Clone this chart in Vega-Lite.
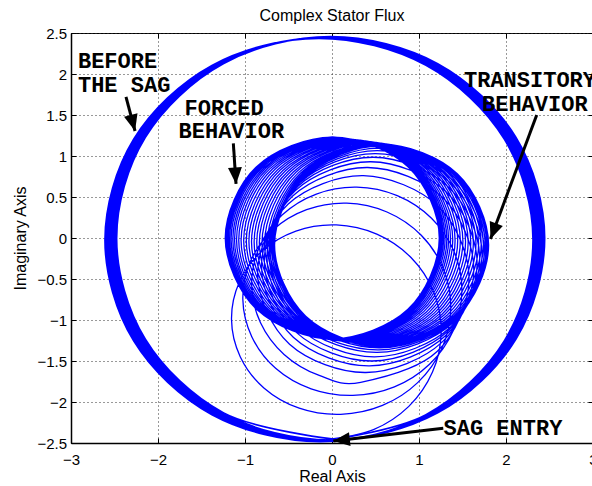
{
  "$schema": "https://vega.github.io/schema/vega-lite/v6.json",
  "width": 522,
  "height": 410,
  "autosize": {"type": "none"},
  "padding": {"left": 71, "top": 33, "right": 0, "bottom": 43},
  "background": "white",
  "title": {
    "text": "Complex Stator Flux",
    "font": "Liberation Sans",
    "fontSize": 16,
    "fontWeight": "normal",
    "color": "black",
    "offset": 2
  },
  "config": {
    "view": {"stroke": "black", "strokeWidth": 1},
    "axis": {
      "labelFont": "Liberation Sans",
      "labelFontSize": 15,
      "labelColor": "black",
      "labelFlush": false,
      "titleFont": "Liberation Sans",
      "titleFontSize": 16,
      "titleFontWeight": "normal",
      "titleColor": "black",
      "tickColor": "black",
      "tickWidth": 1,
      "domainColor": "black"
    }
  },
  "datasets": {
    "before": [
      {"x":-0.15,"y":-2.485},{"x":1.08,"y":-2.155},{"x":1.98,"y":-1.255},{"x":2.31,"y":-0.025},{"x":1.98,"y":1.205},{"x":1.08,"y":2.105},{"x":-0.15,"y":2.435},{"x":-1.38,"y":2.105},{"x":-2.28,"y":1.205},{"x":-2.61,"y":-0.025},{"x":-2.28,"y":-1.255},{"x":-1.38,"y":-2.155},
      {"x":-0.135,"y":-2.483},{"x":1.095,"y":-2.153},{"x":1.995,"y":-1.253},{"x":2.325,"y":-0.023},{"x":1.995,"y":1.207},{"x":1.095,"y":2.107},{"x":-0.135,"y":2.437},{"x":-1.365,"y":2.107},{"x":-2.265,"y":1.207},{"x":-2.595,"y":-0.023},{"x":-2.265,"y":-1.253},{"x":-1.365,"y":-2.153},
      {"x":-0.12,"y":-2.48},{"x":1.11,"y":-2.15},{"x":2.01,"y":-1.25},{"x":2.34,"y":-0.02},{"x":2.01,"y":1.21},{"x":1.11,"y":2.11},{"x":-0.12,"y":2.44},{"x":-1.35,"y":2.11},{"x":-2.25,"y":1.21},{"x":-2.58,"y":-0.02},{"x":-2.25,"y":-1.25},{"x":-1.35,"y":-2.15},
      {"x":-0.105,"y":-2.478},{"x":1.125,"y":-2.148},{"x":2.025,"y":-1.248},{"x":2.355,"y":-0.018},{"x":2.025,"y":1.212},{"x":1.125,"y":2.112},{"x":-0.105,"y":2.442},{"x":-1.335,"y":2.112},{"x":-2.235,"y":1.212},{"x":-2.565,"y":-0.018},{"x":-2.235,"y":-1.248},{"x":-1.335,"y":-2.148},
      {"x":-0.09,"y":-2.475},{"x":1.14,"y":-2.145},{"x":2.04,"y":-1.245},{"x":2.37,"y":-0.015},{"x":2.04,"y":1.215},{"x":1.14,"y":2.115},{"x":-0.09,"y":2.445},{"x":-1.32,"y":2.115},{"x":-2.22,"y":1.215},{"x":-2.55,"y":-0.015},{"x":-2.22,"y":-1.245},{"x":-1.32,"y":-2.145},
      {"x":-0.075,"y":-2.473},{"x":1.155,"y":-2.143},{"x":2.055,"y":-1.243},{"x":2.385,"y":-0.013},{"x":2.055,"y":1.217},{"x":1.155,"y":2.117},{"x":-0.075,"y":2.447},{"x":-1.305,"y":2.117},{"x":-2.205,"y":1.217},{"x":-2.535,"y":-0.013},{"x":-2.205,"y":-1.243},{"x":-1.305,"y":-2.143},
      {"x":-0.06,"y":-2.47},{"x":1.17,"y":-2.14},{"x":2.07,"y":-1.24},{"x":2.4,"y":-0.01},{"x":2.07,"y":1.22},{"x":1.17,"y":2.12},{"x":-0.06,"y":2.45},{"x":-1.29,"y":2.12},{"x":-2.19,"y":1.22},{"x":-2.52,"y":-0.01},{"x":-2.19,"y":-1.24},{"x":-1.29,"y":-2.14},
      {"x":-0.045,"y":-2.468},{"x":1.185,"y":-2.138},{"x":2.085,"y":-1.238},{"x":2.415,"y":-0.008},{"x":2.085,"y":1.222},{"x":1.185,"y":2.122},{"x":-0.045,"y":2.452},{"x":-1.275,"y":2.122},{"x":-2.175,"y":1.222},{"x":-2.505,"y":-0.008},{"x":-2.175,"y":-1.238},{"x":-1.275,"y":-2.138},
      {"x":-0.03,"y":-2.465},{"x":1.2,"y":-2.135},{"x":2.1,"y":-1.235},{"x":2.43,"y":-0.005},{"x":2.1,"y":1.225},{"x":1.2,"y":2.125},{"x":-0.03,"y":2.455},{"x":-1.26,"y":2.125},{"x":-2.16,"y":1.225},{"x":-2.49,"y":-0.005},{"x":-2.16,"y":-1.235},{"x":-1.26,"y":-2.135},
      {"x":-0.015,"y":-2.463},{"x":1.215,"y":-2.133},{"x":2.115,"y":-1.233},{"x":2.445,"y":-0.003},{"x":2.115,"y":1.227},{"x":1.215,"y":2.127},{"x":-0.015,"y":2.457},{"x":-1.245,"y":2.127},{"x":-2.145,"y":1.227},{"x":-2.475,"y":-0.003},{"x":-2.145,"y":-1.233},{"x":-1.245,"y":-2.133},
      {"x":0,"y":-2.45}
    ],
    "after": [
      {"x":0,"y":-2.45},{"x":0.477,"y":-2.337},{"x":0.883,"y":-2.053},{"x":1.155,"y":-1.635},{"x":1.255,"y":-1.145},{"x":1.167,"y":-0.655},{"x":0.908,"y":-0.238},{"x":0.515,"y":0.047},
      {"x":0.05,"y":0.16},{"x":-0.415,"y":0.085},{"x":-0.808,"y":-0.163},{"x":-1.067,"y":-0.543},{"x":-1.155,"y":-0.995},{"x":-1.055,"y":-1.447},{"x":-0.783,"y":-1.828},{"x":-0.377,"y":-2.075},
      {"x":0.1,"y":-2.15},{"x":0.58,"y":-2.042},{"x":0.988,"y":-1.761},{"x":1.262,"y":-1.348},{"x":1.365,"y":-0.863},{"x":1.28,"y":-0.377},{"x":1.023,"y":0.036},{"x":0.632,"y":0.317},
      {"x":0.17,"y":0.425},{"x":-0.292,"y":0.345},{"x":-0.683,"y":0.094},{"x":-0.94,"y":-0.291},{"x":-1.025,"y":-0.748},{"x":-0.922,"y":-1.204},{"x":-0.648,"y":-1.589},{"x":-0.24,"y":-1.84},
      {"x":0.24,"y":-1.92},{"x":0.717,"y":-1.816},{"x":1.121,"y":-1.54},{"x":1.393,"y":-1.131},{"x":1.493,"y":-0.65},{"x":1.404,"y":-0.169},{"x":1.144,"y":0.24},{"x":0.75,"y":0.516},
      {"x":0.285,"y":0.62},{"x":-0.18,"y":0.536},{"x":-0.574,"y":0.28},{"x":-0.834,"y":-0.109},{"x":-0.923,"y":-0.57},{"x":-0.823,"y":-1.031},{"x":-0.551,"y":-1.42},{"x":-0.147,"y":-1.676},
      {"x":0.33,"y":-1.76},{"x":1.208,"y":-1.385},{"x":1.575,"y":-0.5},{"x":1.223,"y":0.385},{"x":0.36,"y":0.76},{"x":-0.503,"y":0.415},{"x":-0.855,"y":-0.44},{"x":-0.488,"y":-1.295},
      {"x":0.39,"y":-1.64},{"x":1.265,"y":-1.27},{"x":1.63,"y":-0.39},{"x":1.275,"y":0.49},{"x":0.41,"y":0.86},{"x":-0.455,"y":0.51},{"x":-0.81,"y":-0.35},{"x":-0.445,"y":-1.21},
      {"x":0.43,"y":-1.56},{"x":1.304,"y":-1.193},{"x":1.668,"y":-0.315},{"x":1.311,"y":0.563},{"x":0.445,"y":0.93},{"x":-0.421,"y":0.578},{"x":-0.778,"y":-0.285},{"x":-0.414,"y":-1.148},
      {"x":0.46,"y":-1.5},{"x":1.334,"y":-1.134},{"x":1.698,"y":-0.258},{"x":1.341,"y":0.619},{"x":0.475,"y":0.985},{"x":-0.391,"y":0.631},{"x":-0.748,"y":-0.233},{"x":-0.384,"y":-1.096},
      {"x":0.49,"y":-1.45},{"x":1.363,"y":-1.085},{"x":1.725,"y":-0.21},{"x":1.368,"y":0.665},{"x":0.5,"y":1.03},{"x":-0.368,"y":0.675},{"x":-0.725,"y":-0.19},{"x":-0.363,"y":-1.055},
      {"x":0.52,"y":-1.395},{"x":1.39,"y":-1.035},{"x":1.75,"y":-0.165},{"x":1.39,"y":0.705},{"x":0.52,"y":1.065},{"x":-0.35,"y":0.705},{"x":-0.71,"y":-0.165},{"x":-0.35,"y":-1.035},
      {"x":0.54,"y":-1.365},{"x":1.41,"y":-1.005},{"x":1.77,"y":-0.135},{"x":1.41,"y":0.735},{"x":0.54,"y":1.095},{"x":-0.33,"y":0.735},{"x":-0.69,"y":-0.135},{"x":-0.33,"y":-1.005},
      {"x":0.555,"y":-1.34},{"x":1.425,"y":-0.98},{"x":1.785,"y":-0.11},{"x":1.425,"y":0.76},{"x":0.555,"y":1.12},{"x":-0.315,"y":0.76},{"x":-0.675,"y":-0.11},{"x":-0.315,"y":-0.98},
      {"x":0.565,"y":-1.325},{"x":1.435,"y":-0.965},{"x":1.795,"y":-0.095},{"x":1.435,"y":0.775},{"x":0.565,"y":1.135},{"x":-0.305,"y":0.775},{"x":-0.665,"y":-0.095},{"x":-0.305,"y":-0.965},
      {"x":0.57,"y":-1.316},{"x":1.44,"y":-0.956},{"x":1.8,"y":-0.086},{"x":1.44,"y":0.784},{"x":0.57,"y":1.144},{"x":-0.3,"y":0.784},{"x":-0.66,"y":-0.086},{"x":-0.3,"y":-0.956},
      {"x":0.568,"y":-1.315},{"x":1.438,"y":-0.955},{"x":1.798,"y":-0.085},{"x":1.438,"y":0.785},{"x":0.568,"y":1.145},{"x":-0.302,"y":0.785},{"x":-0.662,"y":-0.085},{"x":-0.302,"y":-0.955},
      {"x":0.56,"y":-1.314},{"x":1.43,"y":-0.954},{"x":1.79,"y":-0.084},{"x":1.43,"y":0.786},{"x":0.56,"y":1.146},{"x":-0.31,"y":0.786},{"x":-0.67,"y":-0.084},{"x":-0.31,"y":-0.954},
      {"x":0.548,"y":-1.312},{"x":1.418,"y":-0.952},{"x":1.778,"y":-0.082},{"x":1.418,"y":0.788},{"x":0.548,"y":1.148},{"x":-0.322,"y":0.788},{"x":-0.682,"y":-0.082},{"x":-0.322,"y":-0.952},
      {"x":0.53,"y":-1.31},{"x":1.4,"y":-0.95},{"x":1.76,"y":-0.08},{"x":1.4,"y":0.79},{"x":0.53,"y":1.15},{"x":-0.34,"y":0.79},{"x":-0.7,"y":-0.08},{"x":-0.34,"y":-0.95},
      {"x":0.51,"y":-1.307},{"x":1.38,"y":-0.947},{"x":1.74,"y":-0.077},{"x":1.38,"y":0.793},{"x":0.51,"y":1.153},{"x":-0.36,"y":0.793},{"x":-0.72,"y":-0.077},{"x":-0.36,"y":-0.947},
      {"x":0.485,"y":-1.303},{"x":1.355,"y":-0.943},{"x":1.715,"y":-0.073},{"x":1.355,"y":0.797},{"x":0.485,"y":1.157},{"x":-0.385,"y":0.797},{"x":-0.745,"y":-0.073},{"x":-0.385,"y":-0.943},
      {"x":0.455,"y":-1.298},{"x":1.325,"y":-0.938},{"x":1.685,"y":-0.068},{"x":1.325,"y":0.802},{"x":0.455,"y":1.162},{"x":-0.415,"y":0.802},{"x":-0.775,"y":-0.068},{"x":-0.415,"y":-0.938},
      {"x":0.425,"y":-1.294},{"x":1.295,"y":-0.934},{"x":1.655,"y":-0.064},{"x":1.295,"y":0.806},{"x":0.425,"y":1.166},{"x":-0.445,"y":0.806},{"x":-0.805,"y":-0.064},{"x":-0.445,"y":-0.934},
      {"x":0.395,"y":-1.289},{"x":1.265,"y":-0.929},{"x":1.625,"y":-0.059},{"x":1.265,"y":0.811},{"x":0.395,"y":1.171},{"x":-0.475,"y":0.811},{"x":-0.835,"y":-0.059},{"x":-0.475,"y":-0.929},
      {"x":0.365,"y":-1.285},{"x":1.235,"y":-0.925},{"x":1.595,"y":-0.055},{"x":1.235,"y":0.815},{"x":0.365,"y":1.175},{"x":-0.505,"y":0.815},{"x":-0.865,"y":-0.055},{"x":-0.505,"y":-0.925},
      {"x":0.335,"y":-1.28},{"x":1.205,"y":-0.92},{"x":1.565,"y":-0.05},{"x":1.205,"y":0.82},{"x":0.335,"y":1.18},{"x":-0.535,"y":0.82},{"x":-0.895,"y":-0.05},{"x":-0.535,"y":-0.92},
      {"x":0.305,"y":-1.276},{"x":1.175,"y":-0.916},{"x":1.535,"y":-0.046},{"x":1.175,"y":0.824},{"x":0.305,"y":1.184},{"x":-0.565,"y":0.824},{"x":-0.925,"y":-0.046},{"x":-0.565,"y":-0.916},
      {"x":0.275,"y":-1.271},{"x":1.145,"y":-0.911},{"x":1.505,"y":-0.041},{"x":1.145,"y":0.829},{"x":0.275,"y":1.189},{"x":-0.595,"y":0.829},{"x":-0.955,"y":-0.041},{"x":-0.595,"y":-0.911},
      {"x":0.245,"y":-1.267},{"x":1.115,"y":-0.907},{"x":1.475,"y":-0.037},{"x":1.115,"y":0.833},{"x":0.245,"y":1.193},{"x":-0.625,"y":0.833},{"x":-0.985,"y":-0.037},{"x":-0.625,"y":-0.907},
      {"x":0.215,"y":-1.262},{"x":1.085,"y":-0.902},{"x":1.445,"y":-0.032},{"x":1.085,"y":0.838},{"x":0.215,"y":1.198},{"x":-0.655,"y":0.838},{"x":-1.015,"y":-0.032},{"x":-0.655,"y":-0.902},
      {"x":0.185,"y":-1.258},{"x":1.055,"y":-0.898},{"x":1.415,"y":-0.028},{"x":1.055,"y":0.842},{"x":0.185,"y":1.202},{"x":-0.685,"y":0.842},{"x":-1.045,"y":-0.028},{"x":-0.685,"y":-0.898},
      {"x":0.158,"y":-1.254},{"x":1.028,"y":-0.894},{"x":1.388,"y":-0.024},{"x":1.028,"y":0.846},{"x":0.158,"y":1.206},{"x":-0.712,"y":0.846},{"x":-1.072,"y":-0.024},{"x":-0.712,"y":-0.894},
      {"x":0.133,"y":-1.25},{"x":1.003,"y":-0.89},{"x":1.363,"y":-0.02},{"x":1.003,"y":0.85},{"x":0.133,"y":1.21},{"x":-0.737,"y":0.85},{"x":-1.097,"y":-0.02},{"x":-0.737,"y":-0.89},
      {"x":0.11,"y":-1.247},{"x":0.98,"y":-0.887},{"x":1.34,"y":-0.017},{"x":0.98,"y":0.853},{"x":0.11,"y":1.213},{"x":-0.76,"y":0.853},{"x":-1.12,"y":-0.017},{"x":-0.76,"y":-0.887},
      {"x":0.09,"y":-1.244},{"x":0.96,"y":-0.884},{"x":1.32,"y":-0.014},{"x":0.96,"y":0.856},{"x":0.09,"y":1.216},{"x":-0.78,"y":0.856},{"x":-1.14,"y":-0.014},{"x":-0.78,"y":-0.884},
      {"x":0.07,"y":-1.241},{"x":0.94,"y":-0.881},{"x":1.3,"y":-0.011},{"x":0.94,"y":0.859},{"x":0.07,"y":1.219},{"x":-0.8,"y":0.859},{"x":-1.16,"y":-0.011},{"x":-0.8,"y":-0.881},
      {"x":0.053,"y":-1.238},{"x":0.923,"y":-0.878},{"x":1.283,"y":-0.008},{"x":0.923,"y":0.862},{"x":0.053,"y":1.222},{"x":-0.817,"y":0.862},{"x":-1.177,"y":-0.008},{"x":-0.817,"y":-0.878},
      {"x":0.038,"y":-1.236},{"x":0.908,"y":-0.876},{"x":1.268,"y":-0.006},{"x":0.908,"y":0.864},{"x":0.038,"y":1.224},{"x":-0.832,"y":0.864},{"x":-1.192,"y":-0.006},{"x":-0.832,"y":-0.876},
      {"x":0.025,"y":-1.234},{"x":0.895,"y":-0.874},{"x":1.255,"y":-0.004},{"x":0.895,"y":0.866},{"x":0.025,"y":1.226},{"x":-0.845,"y":0.866},{"x":-1.205,"y":-0.004},{"x":-0.845,"y":-0.874},
      {"x":0.015,"y":-1.232},{"x":0.885,"y":-0.872},{"x":1.245,"y":-0.002},{"x":0.885,"y":0.868},{"x":0.015,"y":1.228},{"x":-0.855,"y":0.868},{"x":-1.215,"y":-0.002},{"x":-0.855,"y":-0.872},
      {"x":0.008,"y":-1.231},{"x":0.878,"y":-0.871},{"x":1.238,"y":-0.001},{"x":0.878,"y":0.869},{"x":0.008,"y":1.229},{"x":-0.862,"y":0.869},{"x":-1.222,"y":-0.001},{"x":-0.862,"y":-0.871},
      {"x":0.003,"y":-1.23},{"x":0.873,"y":-0.87},{"x":1.233,"y":0},{"x":0.873,"y":0.87},{"x":0.003,"y":1.23},{"x":-0.867,"y":0.87},{"x":-1.227,"y":0},{"x":-0.867,"y":-0.87},
      {"x":0,"y":-1.23}
    ],
    "arrows": [
      {"x":-2.368,"y":1.72,"x2":-2.264,"y2":1.305},
      {"x":-1.134,"y":1.155,"x2":-1.103,"y2":0.659},
      {"x":2.353,"y":1.5,"x2":1.822,"y2":-0.012},
      {"x":1.279,"y":-2.321,"x2":0.015,"y2":-2.476}
    ],
    "notes": [
      {"x":-2.92,"y":2.07,"label":"BEFORE"},
      {"x":-2.92,"y":1.784,"label":"THE SAG"},
      {"x":-1.695,"y":1.5,"label":"FORCED"},
      {"x":-1.764,"y":1.223,"label":"BEHAVIOR"},
      {"x":1.517,"y":1.838,"label":"TRANSITORY"},
      {"x":1.724,"y":1.549,"label":"BEHAVIOR"},
      {"x":1.282,"y":-2.402,"label":"SAG ENTRY"}
    ]
  },
  "resolve": {"axis": {"x": "independent", "y": "independent"}},
  "layer": [
    {
      "data": {"name": "before"},
      "mark": {"type": "line", "interpolate": "cardinal", "stroke": "#0000ff", "strokeWidth": 1.6, "clip": true},
      "encoding": {
        "x": {
          "field": "x", "type": "quantitative",
          "scale": {"domain": [-3, 3], "nice": false, "zero": false},
          "axis": {
            "orient": "bottom", "values": [-3, -2, -1, 0, 1, 2, 3], "format": "~g",
            "tickSize": -5, "labelPadding": 14, "domainWidth": 1.5,
            "grid": true, "gridColor": "#333333", "gridDash": [1, 3], "gridWidth": 1,
            "title": "Real Axis", "titlePadding": 1
          }
        },
        "y": {
          "field": "y", "type": "quantitative",
          "scale": {"domain": [-2.5, 2.5], "nice": false, "zero": false},
          "axis": {
            "orient": "left", "values": [-2.5, -2, -1.5, -1, -0.5, 0, 0.5, 1, 1.5, 2, 2.5], "format": "~g",
            "tickSize": -5, "labelPadding": 9.5, "domainWidth": 1.5,
            "grid": true, "gridColor": "#333333", "gridDash": [1, 3], "gridWidth": 1,
            "title": "Imaginary Axis", "titlePadding": 8
          }
        },
        "order": {"value": null}
      }
    },
    {
      "data": {"name": "after"},
      "mark": {"type": "line", "interpolate": "cardinal", "stroke": "#0000ff", "strokeWidth": 1.3, "clip": true},
      "encoding": {
        "x": {"field": "x", "type": "quantitative", "scale": {"domain": [-3, 3], "nice": false, "zero": false}, "axis": null},
        "y": {"field": "y", "type": "quantitative", "scale": {"domain": [-2.5, 2.5], "nice": false, "zero": false}, "axis": null},
        "order": {"value": null}
      }
    },
    {
      "data": {"name": "arrows"},
      "mark": {"type": "rule", "stroke": "black", "strokeWidth": 3},
      "encoding": {
        "x": {
          "field": "x", "type": "quantitative",
          "scale": {"domain": [-3, 3], "nice": false, "zero": false},
          "axis": {"orient": "top", "values": [-3, -2, -1, 0, 1, 2, 3], "tickSize": -5, "labels": false, "grid": false, "domain": false, "title": null}
        },
        "y": {
          "field": "y", "type": "quantitative",
          "scale": {"domain": [-2.5, 2.5], "nice": false, "zero": false},
          "axis": {"orient": "right", "values": [-2.5, -2, -1.5, -1, -0.5, 0, 0.5, 1, 1.5, 2, 2.5], "tickSize": -5, "labels": false, "grid": false, "domain": false, "title": null}
        },
        "x2": {"field": "x2"},
        "y2": {"field": "y2"}
      }
    },
    {
      "data": {"name": "arrows"},
      "transform": [
        {"calculate": "atan2((datum.x2 - datum.x) * 87, (datum.y2 - datum.y) * 82) * 180 / PI", "as": "heading"}
      ],
      "mark": {"type": "point", "shape": "M0,0L-0.42,1L0.42,1Z", "filled": true, "fill": "black", "stroke": null, "size": 1100, "opacity": 1},
      "encoding": {
        "x": {"field": "x2", "type": "quantitative", "scale": {"domain": [-3, 3], "nice": false, "zero": false}, "axis": null},
        "y": {"field": "y2", "type": "quantitative", "scale": {"domain": [-2.5, 2.5], "nice": false, "zero": false}, "axis": null},
        "angle": {"field": "heading", "type": "quantitative", "scale": null}
      }
    },
    {
      "data": {"name": "notes"},
      "mark": {"type": "text", "font": "Liberation Mono", "fontWeight": "bold", "fontSize": 22, "align": "left", "baseline": "alphabetic", "color": "black"},
      "encoding": {
        "x": {"field": "x", "type": "quantitative", "scale": {"domain": [-3, 3], "nice": false, "zero": false}, "axis": null},
        "y": {"field": "y", "type": "quantitative", "scale": {"domain": [-2.5, 2.5], "nice": false, "zero": false}, "axis": null},
        "text": {"field": "label"}
      }
    }
  ]
}
